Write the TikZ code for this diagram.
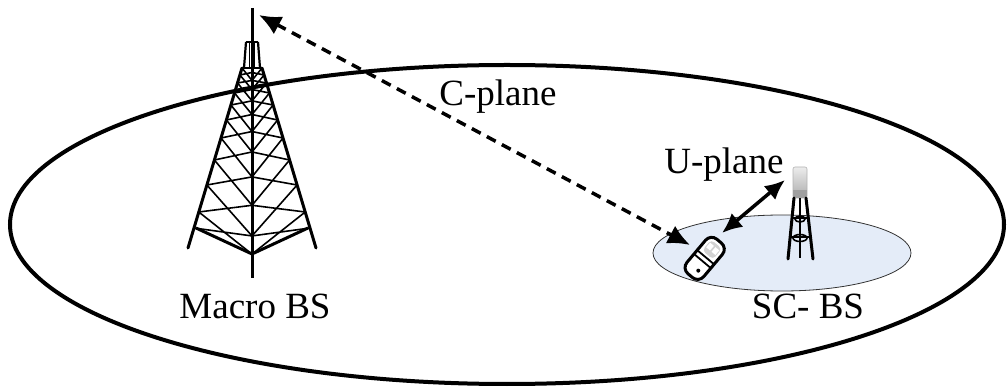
\documentclass[tikz,border=0pt]{standalone}
\usepackage{fontspec}
\setmainfont{Liberation Serif}
\usetikzlibrary{arrows.meta}
\definecolor{cellblue}{RGB}{228,236,248}
\tikzset{
  label text/.style={font=\fontsize{37}{44}\selectfont, inner sep=0pt},
  cellline/.style={line width=4pt},
  leg/.style={line width=3pt, line cap=round},
  mesh/.style={line width=1.6pt},
  cplane/.style={line width=3.5pt, dash pattern=on 10pt off 7pt,
    {Latex[length=22pt,width=20pt]}-{Latex[length=22pt,width=20pt]}},
  uplane/.style={line width=3.5pt,
    {Latex[length=20pt,width=18pt]}-{Latex[length=20pt,width=18pt]}},
}
\begin{document}
\begin{tikzpicture}[x=1pt,y=-1pt]
\useasboundingbox (0,0) rectangle (1007,387);

% macro cell
\draw[cellline] (507,224.5) ellipse [x radius=497, y radius=159.5];

% small cell
\draw[fill=cellblue, draw=black!80, line width=0.8pt] (782,253) ellipse [x radius=129, y radius=38];

% ---- macro base station tower ----
\draw[line width=3pt] (252,8) -- (252,278);
\draw[line width=2pt] (246,42) -- (258,42);
\draw[line width=2.2pt] (246,42) -- (244,68) (258,42) -- (260,68);
\draw[line width=1.4pt] (249.5,42) -- (249.5,68) (254.5,42) -- (254.5,68);
\draw[line width=2pt] (241,68) -- (263,68);
\draw[leg] (242,68) -- (188,248);
\draw[leg] (262,68) -- (316,248);
\foreach \ya/\yb in {68/75,75/83,83/93,93/105,105/120,120/138,138/160,160/185,185/212,212/228}{
  \pgfmathsetmacro\wa{10+0.3*(\ya-68)}
  \pgfmathsetmacro\wb{10+0.3*(\yb-68)}
  \pgfmathsetmacro\ca{\ya+0.45*\wa}
  \pgfmathsetmacro\cb{\yb+0.45*\wb}
  \draw[mesh] (252-\wa,\ya) -- (252,\cb) (252,\ca) -- (252-\wb,\yb);
  \draw[mesh] (252+\wa,\ya) -- (252,\cb) (252,\ca) -- (252+\wb,\yb);
}
\draw[line width=3pt, line join=round] (196,228) -- (252,254) -- (308,228);

% ---- small cell base station ----
\shade[top color=gray!15, bottom color=gray!65, rounded corners=2pt] (793,167) rectangle (807,198);
\draw[gray!60, line width=0.6pt, rounded corners=2pt] (793,167) rectangle (807,198);
\fill[gray!75] (793,190) rectangle (807,198);
\draw[leg] (794,198) -- (788,259);
\draw[leg] (806,198) -- (813,259);
\draw[line width=2pt] (800,198) -- (800,258);
\draw[line width=2pt] (793,218) -- (807,218);
\draw[line width=1.6pt] (800,219) ellipse [x radius=5, y radius=3];
\draw[line width=2pt] (791,237) -- (810,237);
\draw[line width=1.6pt] (800,238) ellipse [x radius=7, y radius=3.5];

% ---- user equipment ----
\begin{scope}[shift={(705,258)}, x=1pt, y=1pt, rotate=50]
  \draw[fill=white, line width=3pt, rounded corners=8pt] (-23,-11) rectangle (22,11);
  \fill[gray!35, rounded corners=4pt] (4,-7) rectangle (18,7);
  \fill[white] (9,-6) rectangle (15,-1);
  \fill[white] (9,1) rectangle (15,6);
  \draw[line width=1.8pt] (-4,-11) -- (-4,11) (1,-11) -- (1,11);
  \fill (-14,-3) circle [radius=2];
\end{scope}

% ---- connectors ----
\coordinate (mtop) at (259,15);
\coordinate (ueC) at (690,245);
\coordinate (ueU) at (722,233);
\coordinate (sctop) at (785,180);
\draw[cplane] (mtop) -- (ueC);
\draw[uplane] (ueU) -- (sctop);

% ---- labels ----
\node[label text] (cl) at (498,97) {C-plane};
\node[label text] (ul) at (724,165) {U-plane};
\node[label text] (ml) at (255,306) {Macro BS};
\node[label text] (sl) at (808,306) {SC- BS};
\end{tikzpicture}
\end{document}
